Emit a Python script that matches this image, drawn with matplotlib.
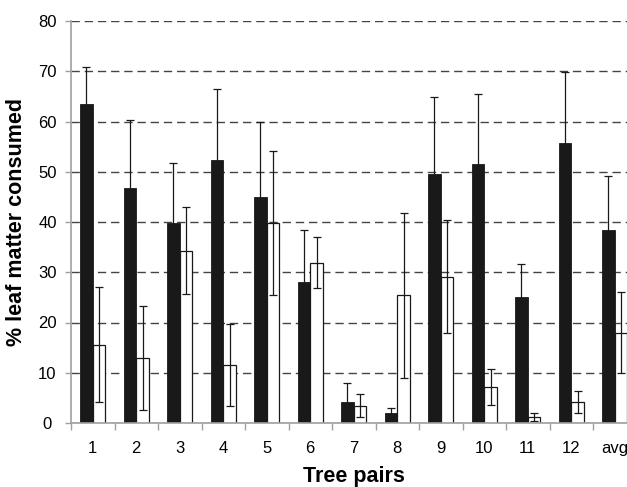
import numpy as np
import matplotlib
matplotlib.use('Agg')
import matplotlib.pyplot as plt

# tree pairs (last one is the average)
pairs = ['1', '2', '3', '4', '5', '6', '7', '8', '9', '10', '11', '12', 'avg']

# % leaf matter consumed, black and white bars, with error (+/-)
black_vals = [63.4, 46.7, 39.9, 52.4, 44.9, 28.0, 4.1, 2.0, 49.5, 51.6, 25.0, 55.8, 38.5]
black_err = [7.4, 13.5, 11.9, 14.0, 15.0, 10.5, 3.8, 1.0, 15.4, 13.9, 6.7, 14.0, 10.7]
white_vals = [15.6, 12.9, 34.3, 11.5, 39.8, 31.9, 3.4, 25.4, 29.1, 7.1, 1.1, 4.1, 18.0]
white_err = [11.5, 10.4, 8.6, 8.2, 14.3, 5.1, 2.3, 16.4, 11.2, 3.6, 0.8, 2.2, 8.0]

plt.rcParams['font.family'] = ['Liberation Sans', 'DejaVu Sans']

fig = plt.figure(figsize=(6.27, 4.87), dpi=100)
# axes runs a bit past the right edge, like the cropped original
ax = fig.add_axes([71 / 627, 1 - 423 / 487, 565.5 / 627, 402 / 487])

x = np.arange(len(pairs))
w = 0.29
err_kw = dict(ecolor='#191919', elinewidth=0.9, capsize=3, capthick=0.9)

ax.bar(x - w / 2, black_vals, w, color='#191919', edgecolor='#191919', linewidth=0.6,
       yerr=black_err, error_kw=err_kw, zorder=2)
ax.bar(x + w / 2, white_vals, w, color='white', edgecolor='#191919', linewidth=0.9,
       yerr=white_err, error_kw=err_kw, zorder=2)

ax.set_xlim(-0.5, len(pairs) - 0.5)
ax.set_ylim(0, 80)
ax.set_yticks(np.arange(0, 81, 10))
ax.set_xticks(x)
ax.set_xticklabels(pairs)
ax.set_xticks(np.arange(-0.5, len(pairs), 1), minor=True)

ax.yaxis.grid(True, linestyle=(0, (6, 3.5)), color='#444444', linewidth=1.0)
ax.set_axisbelow(True)

for s in ['top', 'right']:
    ax.spines[s].set_visible(False)
for s in ['left', 'bottom']:
    ax.spines[s].set_color('#a0a0a0')
    ax.spines[s].set_linewidth(1.2)

ax.tick_params(axis='x', which='major', length=0, pad=13, labelsize=12)
ax.tick_params(axis='x', which='minor', length=5, width=1.0, color='#a0a0a0', direction='out')
ax.tick_params(axis='y', length=4, width=1.0, color='#a0a0a0', pad=13, labelsize=12)
for lab in ax.get_yticklabels():
    lab.set_horizontalalignment('center')

ax.set_xlabel('Tree pairs', fontsize=15.5, fontweight='bold')
ax.set_ylabel('% leaf matter consumed', fontsize=15.5, fontweight='bold')
ax.xaxis.set_label_coords(282.5 / 565.5, -43 / 402)
ax.yaxis.set_label_coords((27 - 71) / 565.5, 0.5)

plt.savefig('out.png', dpi=100)
plt.close()
